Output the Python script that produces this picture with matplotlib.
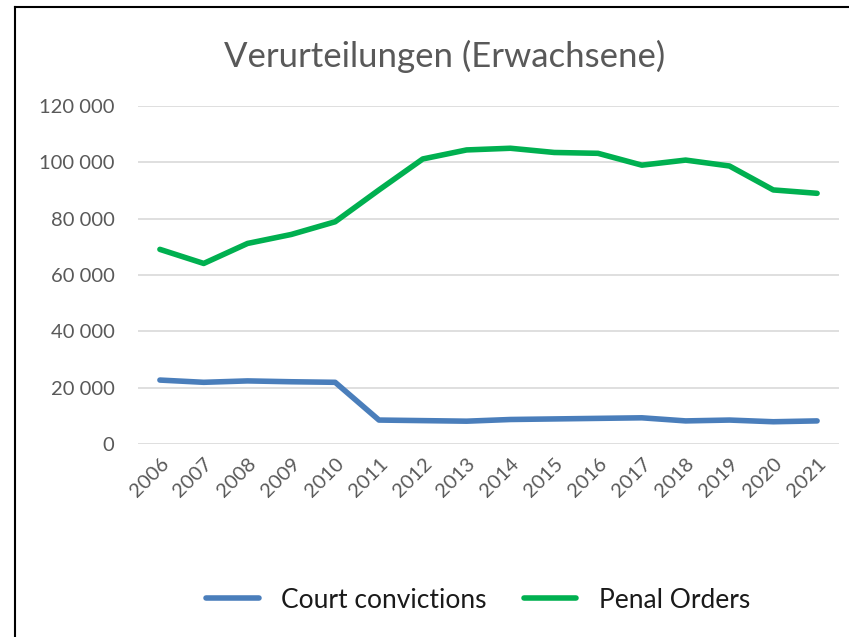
import matplotlib
matplotlib.use("Agg")
import matplotlib.pyplot as plt
from matplotlib.lines import Line2D
from matplotlib.ticker import FuncFormatter

plt.rcParams["font.family"] = ["Lato", "DejaVu Sans"]

years = [str(y) for y in range(2006, 2022)]
court_convictions = [22700, 21900, 22400, 22100, 21900, 8500, 8300, 8100,
                     8700, 8900, 9100, 9300, 8200, 8500, 7900, 8200]
penal_orders = [69100, 64100, 71200, 74400, 78900, 90200, 101200, 104400,
                105000, 103500, 103200, 99000, 100800, 98700, 90200, 89000]

blue = "#4A7EBB"
green = "#00B050"
grey_text = "#595959"

fig = plt.figure(figsize=(8.49, 6.37), dpi=100)
ax = fig.add_axes([138 / 849, 1 - 444 / 637, 701 / 849, 338 / 637])

x = range(len(years))
ax.plot(x, court_convictions, color=blue, linewidth=4, solid_capstyle="round",
        solid_joinstyle="round", label="Court convictions")
ax.plot(x, penal_orders, color=green, linewidth=4, solid_capstyle="round",
        solid_joinstyle="round", label="Penal Orders")

ax.set_xlim(-0.5, len(years) - 0.5)
ax.set_ylim(0, 120000)
ax.set_yticks(range(0, 120001, 20000))
ax.yaxis.set_major_formatter(FuncFormatter(lambda v, p: f"{int(v):,}".replace(",", " ")))
ax.set_xticks(list(x))
ax.set_xticklabels(years, rotation=45, ha="right", rotation_mode="anchor")
ax.tick_params(axis="both", length=0, labelsize=14.5, colors=grey_text)
ax.tick_params(axis="y", pad=17)
ax.tick_params(axis="x", pad=8)
ax.grid(axis="y", color="#D9D9D9", linewidth=1.2)
ax.set_axisbelow(True)
for s in ax.spines.values():
    s.set_visible(False)

fig.text(445 / 849, 1 - 56 / 637, "Verurteilungen (Erwachsene)", ha="center",
         va="center", fontsize=25, color=grey_text)

handles = [Line2D([], [], color=blue, linewidth=4, solid_capstyle="round"),
           Line2D([], [], color=green, linewidth=4, solid_capstyle="round")]
leg = fig.legend(handles, ["Court convictions", "Penal Orders"], loc="center",
                 bbox_to_anchor=(478 / 849, 1 - 600 / 637), ncol=2, frameon=False,
                 fontsize=19, handlelength=2.0, columnspacing=1.4, handletextpad=0.85)
for t in leg.get_texts():
    t.set_color("#1a1a1a")

# chart border (left and top edges visible)
fig.add_artist(Line2D([15 / 849, 15 / 849], [0, 1 - 7 / 637], color="black",
                      linewidth=1.5, transform=fig.transFigure))
fig.add_artist(Line2D([15 / 849, 1], [1 - 7 / 637, 1 - 7 / 637], color="black",
                      linewidth=1.5, transform=fig.transFigure))

fig.savefig("out.png", dpi=100)
